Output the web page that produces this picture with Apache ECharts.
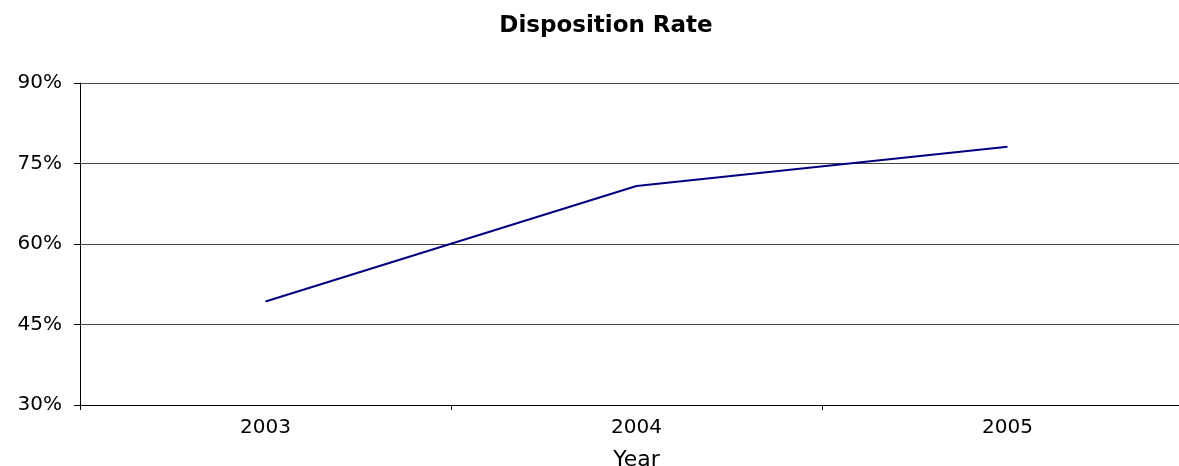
<!DOCTYPE html>
<html><head><meta charset="utf-8">
<script src="https://cdn.jsdelivr.net/npm/echarts@6/dist/echarts.min.js"></script>
<style>html,body{margin:0;padding:0;background:#fff}#c{width:1179px;height:466px}</style>
</head><body><div id="c"></div>
<script>
const categories = ['2003', '2004', '2005'];
const dispositionRate = [49.3, 70.8, 78.1];
const yTicks = [30, 45, 60, 75, 90];

const FONT = '"DejaVu Sans", "Liberation Sans", Arial';
const chart = echarts.init(document.getElementById('c'), null, {renderer: 'canvas'});
chart.setOption({
  animation: false,
  backgroundColor: '#ffffff',
  title: {
    text: 'Disposition Rate', left: 601, top: 10, textAlign: 'center',
    textStyle: {fontFamily: FONT, fontWeight: 'bold', fontSize: 23, color: '#000'}
  },
  grid: {left: 80, top: 83, width: 1113, height: 322, containLabel: false, outerBoundsMode: 'none'},
  xAxis: {
    type: 'category', data: categories, boundaryGap: true,
    name: 'Year', nameLocation: 'middle', nameGap: 44,
    nameTextStyle: {fontFamily: FONT, fontSize: 22, color: '#000', verticalAlign: 'top'},
    axisLine: {lineStyle: {color: '#000', width: 1}},
    axisTick: {show: true, length: 5, lineStyle: {color: '#000'}},
    axisLabel: {fontFamily: FONT, fontSize: 20, color: '#000', margin: 13},
    splitLine: {show: false}
  },
  yAxis: {
    type: 'value', min: yTicks[0], max: yTicks[yTicks.length - 1], interval: 15,
    axisLine: {show: true, lineStyle: {color: '#000', width: 1}},
    axisTick: {show: true, length: 6, lineStyle: {color: '#000'}},
    axisLabel: {fontFamily: FONT, fontSize: 20, color: '#000', margin: 18, formatter: v => v + '%'},
    splitLine: {show: true, lineStyle: {color: '#444', width: 1}}
  },
  series: [{
    type: 'line', data: dispositionRate, symbol: 'none',
    lineStyle: {color: '#000080', width: 2}
  }]
});
</script></body></html>
